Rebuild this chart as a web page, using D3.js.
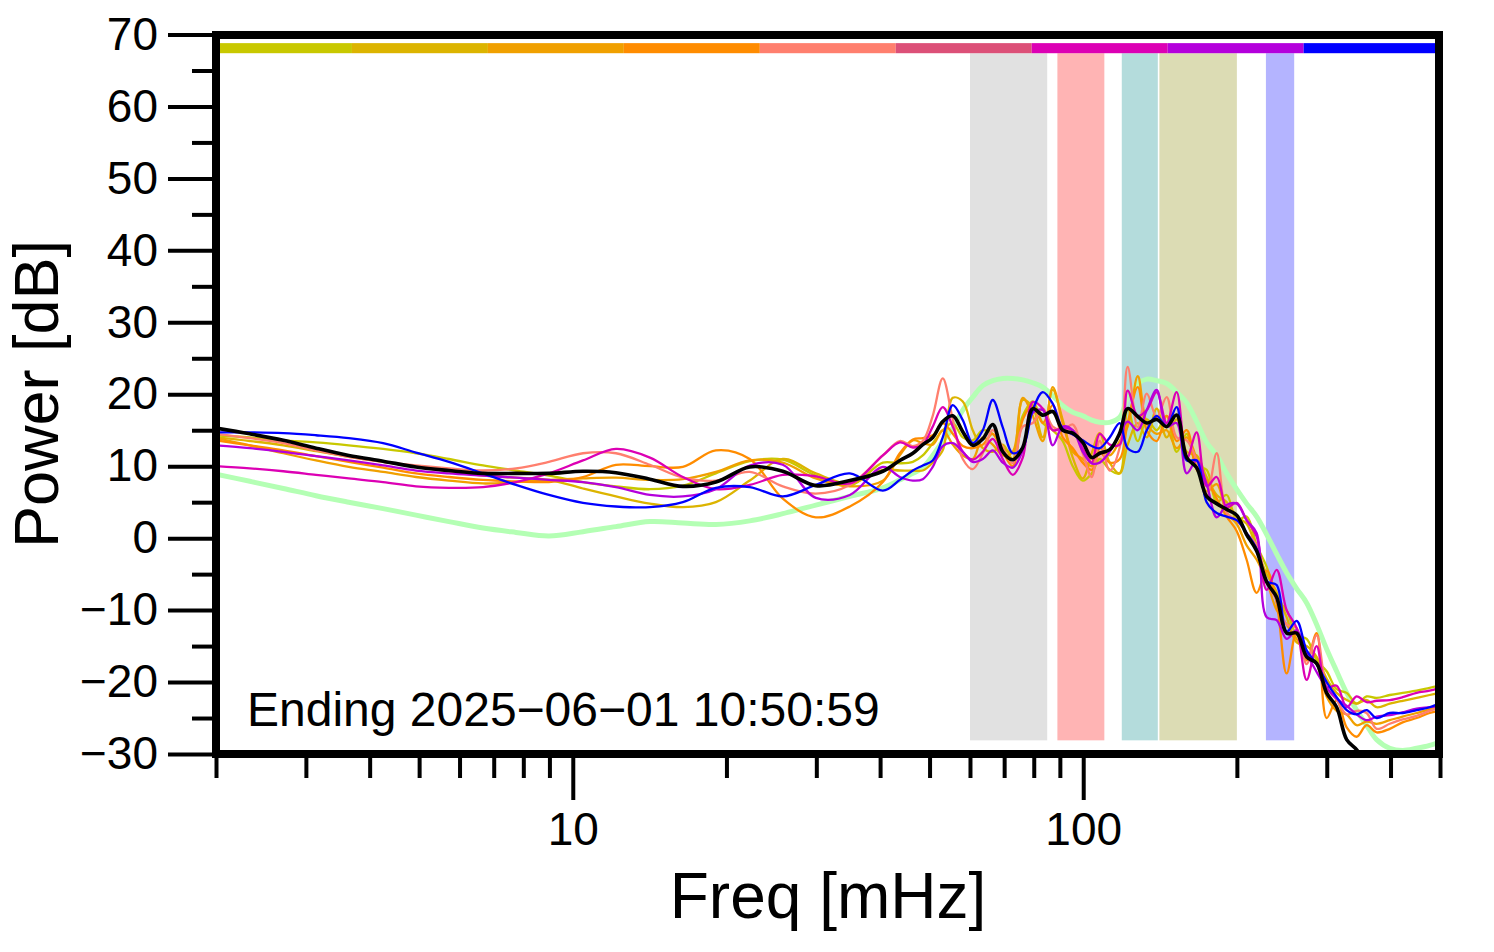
<!DOCTYPE html>
<html><head><meta charset="utf-8">
<script src="https://cdn.jsdelivr.net/npm/d3@7"></script>
<style>
html,body{margin:0;padding:0;background:#fff;}
svg{display:block;}
text{font-family:"Liberation Sans",Arial,Helvetica,sans-serif;fill:#000;}
</style>
</head><body>
<svg id="chart" width="1494" height="952"></svg>
<script>
// ---------------- data ----------------
const freqs = [2, 2.33, 2.71, 3.14, 3.64, 4.25, 4.93, 5.72, 6.67, 7.74,
  8.98, 10.47, 12.15, 14.16, 16.43, 19.07, 22.22, 25.79, 29.93, 34.9,
  40.5, 43.72, 46.37, 48.49, 50.72, 53.06, 55.52, 58.08, 60.76, 63.57,
  66.49, 69.56, 72.77, 76.13, 79.64, 83.32, 87.15, 91.18, 95.39, 99.79,
  103.9, 107.7, 112.7, 117.9, 122.2, 127.9, 133.2, 139.3, 145.7, 152.4,
  159.5, 166.8, 174.5, 182.6, 191, 199.8, 209, 218.7, 228.8, 239.3,
  250.3, 261.9, 274, 286.6, 299.8, 313.7, 328.2, 343.2, 359.1, 375.7,
  398.6, 422.4, 450, 477.2, 500];

const meanPower = [15.3, 14.5, 13.6, 12.5, 11.5, 10.7, 9.9, 9.4, 9.0, 9.0,
  9.0, 9.3, 9.1, 8.2, 7.2, 7.8, 9.9, 9.3, 7.3, 8.0,
  9.3, 10.8, 11.8, 13.0, 14.0, 16.2, 17.0, 14.8, 12.9, 13.8,
  15.8, 12.0, 10.9, 12.6, 18.0, 17.1, 17.6, 15.0, 14.6, 13.3,
  11.2, 11.8, 12.3, 14.6, 18.0, 16.9, 16.0, 16.5, 15.5, 17.1,
  11.2, 9.8, 5.8, 4.8, 4.0, 3.2, 0.5, -1.8, -6.1, -8.2,
  -13.2, -13.2, -16.5, -17.4, -21.5, -23.5, -28.0, -29.4, -31.5, -33.0,
  null, null, null, null, null];

const referencePower = [8.9, 7.9, 6.9, 5.9, 5.0, 4.1, 3.2, 2.3, 1.4, 0.8,
  0.3, 0.9, 1.6, 2.3, 2.1, 1.9, 2.4, 3.4, 4.6, 5.8,
  7.0, 8.1, 9.0, 9.8, 11.5, 13.5, 15.3, 17.8, 19.6, 21.2,
  21.9, 22.2, 22.2, 22.0, 21.6, 21.0, 19.8, 18.4, 17.5, 17.0,
  16.4, 16.1, 16.1, 16.8, 19.5, 21.5, 22.1, 21.9, 21.5, 20.3,
  18.8, 16.2, 13.3, 11.5, 9.0, 6.8, 4.8, 3.0, 0.5, -2.2,
  -4.8, -7.0, -9.0, -12.0, -15.4, -18.5, -21.5, -23.9, -26.0, -28.0,
  -29.2, -29.5, -29.2, -28.8, -28.3];

const powerOlive = [14.3, 14.0, 13.6, 13.3, 12.9, 12.4, 11.8, 11.0, 10.1, 9.4,
  8.7, 7.8, 7.2, 6.8, 7.3, 9.0, 10.7, 10.9, 8.7, 7.3,
  10.5, 10.4, 10.6, 11.5, 13.2, 15.0, 16.0, 14.0, 13.6, 15.0,
  14.5, 12.5, 12.0, 17.0, 19.0, 16.0, 15.0, 13.5, 10.0, 8.0,
  9.0, 11.0, 9.5, 9.0, 18.0, 13.5, 16.5, 15.0, 17.0, 12.0,
  14.5, 10.0, 9.5, 5.0, 6.0, 2.5, 3.0, -1.0, -4.0, -8.5,
  -10.0, -13.5, -14.0, -17.0, -18.5, -21.0, -21.5, -23.0, -22.0, -22.2,
  -21.8, -21.5, -21.2, -20.8, -20.5];

const powerGold = [14.0, 13.5, 12.9, 12.1, 11.3, 10.6, 9.9, 9.3, 8.7, 8.4,
  8.1, 6.9, 5.8, 4.8, 4.3, 5.0, 8.0, 11.0, 9.0, 7.6,
  9.5, 9.4, 9.4, 9.4, 10.5, 12.2, 19.5, 19.0, 15.0, 12.5,
  12.0, 13.0, 11.0, 19.2, 18.2, 14.0, 20.6, 16.4, 11.2, 8.3,
  11.8, 14.6, 10.5, 9.0, 13.0, 16.0, 14.0, 18.0, 14.0, 16.5,
  12.0, 11.5, 8.5, 6.0, 5.0, 3.0, 2.0, -1.5, -5.0, -7.5,
  -11.0, -14.5, -15.0, -16.5, -19.5, -21.5, -22.5, -23.0, -22.5, -23.5,
  -23.0, -22.6, -22.2, -21.8, -21.5];

const powerOrange = [13.9, 12.9, 11.8, 10.8, 9.9, 9.2, 8.5, 8.0, 7.6, 7.8,
  8.1, 8.3, 8.4, 8.1, 8.2, 9.2, 10.8, 10.5, 8.3, 7.2,
  8.0, 11.5, 13.6, 13.2, 13.0, 15.0, 13.0, 11.5, 11.0, 14.0,
  13.0, 11.5, 12.0, 19.5, 17.0, 13.5, 21.0, 16.0, 12.0, 11.0,
  10.0, 12.5, 11.5, 13.5, 15.5, 22.5, 16.0, 14.5, 15.0, 12.5,
  14.0, 11.0, 6.5, 7.5, 3.5, 2.0, -1.0, -3.0, -6.0, -10.0,
  -12.0, -14.0, -16.0, -17.5, -22.0, -24.0, -24.5, -26.0, -25.5, -25.8,
  -25.3, -24.8, -24.3, -23.8, -23.3];

const powerDarkOrange = [13.6, 12.9, 12.2, 11.4, 10.6, 9.8, 9.0, 8.5, 8.1, 7.9,
  7.8, 8.5, 10.2, 10.0, 9.9, 12.2, 11.0, 5.5, 2.9, 4.4,
  7.8, 11.8, 13.7, 13.9, 14.3, 16.0, 14.5, 12.8, 12.5, 13.0,
  14.5, 12.0, 10.0, 16.5, 18.5, 16.0, 18.5, 14.0, 12.5, 10.5,
  9.5, 12.0, 10.5, 11.0, 16.0, 21.0, 15.0, 13.5, 17.0, 13.5,
  15.0, 9.5, 8.0, 5.5, 3.0, 1.0, -3.0, -7.6, -4.5, -9.0,
  -18.8, -13.0, -17.0, -13.2, -25.0, -22.5, -26.3, -27.6, -26.0, -27.0,
  -26.5, -25.6, -25.0, -24.3, -24.0];

const powerSalmon = [14.5, 13.9, 13.2, 12.2, 11.3, 10.6, 10.1, 9.7, 9.4, 9.7,
  10.6, 11.8, 11.8, 10.2, 8.4, 8.0, 9.2, 7.2, 6.2, 7.4,
  11.5, 13.5, 12.8, 13.5, 17.0, 22.2, 16.5, 11.0, 9.6, 11.8,
  15.0, 12.6, 10.4, 15.5, 16.0, 18.0, 15.5, 15.0, 15.8, 11.8,
  8.5, 13.5, 9.4, 12.6, 23.8, 15.4, 20.1, 16.8, 19.6, 14.0,
  13.6, 10.8, 5.7, 11.8, 3.5, 2.5, 0.7, -1.0, -6.2, -8.6,
  -12.0, -12.5, -17.5, -13.5, -20.7, -22.5, -24.5, -24.0, -24.3, -26.5,
  -25.8, -25.2, -24.7, -24.0, -23.5];

const powerMagenta = [10.0, 9.7, 9.3, 8.8, 8.3, 7.8, 7.2, 7.0, 7.1, 7.8,
  9.0, 10.8, 12.4, 11.2, 8.5, 6.8, 7.4, 8.8, 8.6, 7.6,
  11.5, 13.3, 12.6, 13.0, 15.5, 18.2, 15.5, 12.0, 10.9, 12.0,
  13.8, 11.0, 8.8, 11.2, 18.9, 18.0, 15.0, 15.3, 15.0, 12.5,
  10.5, 14.5, 13.0, 13.0, 20.5, 17.0, 17.8, 20.3, 16.0, 20.3,
  11.0, 14.7, 7.2, 8.5, 4.3, 4.9, 2.5, 0.2, -7.2, -4.4,
  -10.0, -12.5, -19.7, -15.0, -20.7, -20.5, -23.5, -22.0, -22.8, -22.6,
  -22.5, -22.1, -21.5, -21.2, -20.8];

const powerPurple = [12.9, 12.5, 12.0, 11.4, 10.8, 10.1, 9.4, 9.0, 8.7, 8.4,
  8.1, 7.8, 7.1, 6.0, 5.8, 6.8, 10.1, 10.2, 5.6, 6.0,
  9.9, 8.5, 8.0, 8.2, 9.9, 12.8, 13.2, 12.0, 10.6, 11.0,
  12.2, 10.5, 9.8, 12.2, 17.4, 17.8, 12.9, 15.5, 15.0, 12.0,
  10.4, 10.5, 12.0, 14.5, 16.2, 15.0, 17.8, 20.6, 15.5, 16.0,
  9.0, 10.8, 7.5, 2.9, 4.6, 4.8, 2.5, 0.7, -11.0, -11.4,
  -14.0, -12.8, -16.0, -18.6, -20.8, -22.3, -23.3, -24.5, -25.3, -24.8,
  -24.6, -24.2, -23.7, -23.5, -23.3];

const powerBlue = [14.7, 14.7, 14.6, 14.3, 13.9, 13.2, 11.9, 10.6, 9.0, 7.4,
  6.0, 4.9, 4.4, 4.3, 5.0, 7.0, 7.1, 5.8, 7.4, 9.0,
  6.6, 8.1, 9.4, 10.1, 10.8, 14.0, 18.5, 16.4, 13.2, 15.0,
  19.2, 15.4, 11.8, 12.6, 17.8, 20.3, 18.7, 15.2, 14.4, 13.6,
  12.8, 12.5, 14.0, 16.0, 12.5, 12.0, 15.0, 17.0, 15.5, 18.2,
  10.8, 10.8, 5.0, 3.5, 3.0, 2.5, 0.7, -1.5, -6.0, -6.5,
  -13.0, -11.5, -15.6, -17.5, -20.0, -22.1, -23.9, -24.5, -23.9, -25.0,
  -24.3, -24.3, -23.9, -23.5, -22.9];

const traceSeries = [powerOlive, powerGold, powerOrange, powerDarkOrange, powerSalmon, powerMagenta, powerPurple, powerBlue];
const traceColors = ["#c8c800", "#dcb400", "#f0a000", "#ff8c00", "#ff7f6e", "#dc00b4", "#b400dc", "#0000ff"];

const barEdges = [2, 3.693, 6.819, 12.59, 23.25, 42.93, 79.27, 146.4, 270.3, 500];
const barColors = ["#c8c800", "#dcb400", "#f0a000", "#ff8c00", "#ff7f6e", "#dc5078", "#dc00b4", "#b400dc", "#0000ff"];
const barRange = [67.4, 68.8];

const bandRanges = [[60, 85], [89, 110], [119, 140], [141, 200], [228, 259]];
const bandColors = ["#e1e1e1", "#ffb4b4", "#b4dcdc", "#dcdcb4", "#b4b4ff"];
const bandLevels = [-28.1, 67.4];

const yMajorTicks = [-30, -20, -10, 0, 10, 20, 30, 40, 50, 60, 70];
const yMinorTicks = [-25, -15, -5, 5, 15, 25, 35, 45, 55, 65];
const xMajorTicks = [10, 100];
const xMinorTicks = [2, 3, 4, 5, 6, 7, 8, 9, 20, 30, 40, 50, 60, 70, 80, 90, 200, 300, 400, 500];

const caption = "Ending 2025\u221206\u221201 10:50:59";
const xTitle = "Freq [mHz]";
const yTitle = "Power [dB]";

// ---------------- drawing ----------------
const svg = d3.select("#chart");
const L = 216, R = 1440, T = 34.5, B = 754;
const x = d3.scaleLog().domain([2, 500]).range([L, R]);
const y = d3.scaleLinear().domain([-30, 70]).range([B, T]);

svg.append("defs").append("clipPath").attr("id", "plotclip")
  .append("rect").attr("x", L).attr("y", 35).attr("width", R - L).attr("height", B - 35);

// shaded bands
svg.append("g").selectAll("rect").data(bandRanges).join("rect")
  .attr("x", d => x(d[0]))
  .attr("width", d => x(d[1]) - x(d[0]))
  .attr("y", y(bandLevels[1]))
  .attr("height", y(bandLevels[0]) - y(bandLevels[1]))
  .attr("fill", (d, i) => bandColors[i]);

// colour bar on top
svg.append("g").selectAll("rect").data(barColors).join("rect")
  .attr("x", (d, i) => x(barEdges[i]))
  .attr("width", (d, i) => x(barEdges[i + 1]) - x(barEdges[i]))
  .attr("y", y(barRange[1]))
  .attr("height", y(barRange[0]) - y(barRange[1]))
  .attr("fill", d => d);

const lineGen = d3.line()
  .defined(d => d[1] !== null)
  .x(d => x(d[0])).y(d => y(d[1]))
  .curve(d3.curveCatmullRom.alpha(0.5));
const toPts = arr => freqs.map((f, i) => [f, arr[i]]);

const lines = svg.append("g").attr("clip-path", "url(#plotclip)");
lines.append("path").attr("d", lineGen(toPts(referencePower)))
  .attr("fill", "none").attr("stroke", "#b4ffb4").attr("stroke-width", 5).attr("stroke-linejoin", "round");
traceSeries.forEach((s, i) => {
  lines.append("path").attr("d", lineGen(toPts(s)))
    .attr("fill", "none").attr("stroke", traceColors[i]).attr("stroke-width", 2.3).attr("stroke-linejoin", "round");
});
lines.append("path").attr("d", lineGen(toPts(meanPower)))
  .attr("fill", "none").attr("stroke", "#000").attr("stroke-width", 3.6).attr("stroke-linejoin", "round");

// frame
svg.append("rect").attr("x", L).attr("y", 35).attr("width", 1439 - L).attr("height", B - 35)
  .attr("fill", "none").attr("stroke", "#000").attr("stroke-width", 8);

function styleAxis(g) {
  g.select(".domain").remove();
  g.selectAll(".tick line").attr("stroke", "#000").attr("stroke-width", 4);
  g.selectAll(".tick text").attr("font-size", 46).attr("font-family", "'Liberation Sans', Arial, sans-serif").attr("fill", "#000");
}

// y axis
svg.append("g").attr("transform", `translate(${L},0)`)
  .call(d3.axisLeft(y).tickValues(yMinorTicks).tickSize(24).tickFormat(""))
  .call(styleAxis);
svg.append("g").attr("transform", `translate(${L},0)`)
  .call(d3.axisLeft(y).tickValues(yMajorTicks).tickSize(48).tickPadding(10).tickFormat(d3.format("d")))
  .call(styleAxis);

// x axis
svg.append("g").attr("transform", `translate(0,${B})`)
  .call(d3.axisBottom(x).tickValues(xMinorTicks).tickSize(24).tickFormat(""))
  .call(styleAxis);
svg.append("g").attr("transform", `translate(0,${B})`)
  .call(d3.axisBottom(x).tickValues(xMajorTicks).tickSize(46).tickPadding(12).tickFormat(d3.format("d")))
  .call(styleAxis);

// titles
svg.append("text").attr("x", 828).attr("y", 918).attr("text-anchor", "middle")
  .attr("font-size", 64).text(xTitle);
svg.append("text").attr("transform", "translate(58,394) rotate(-90)").attr("text-anchor", "middle")
  .attr("font-size", 63).text(yTitle);

// caption
svg.append("text").attr("x", 247).attr("y", 726).attr("font-size", 48).text(caption);
</script>
</body></html>
